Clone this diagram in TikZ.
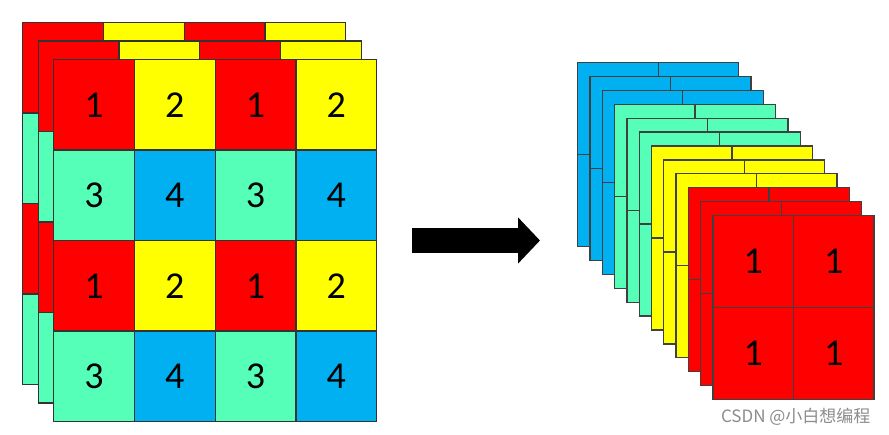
\documentclass[tikz,border=0pt]{standalone}
\usepackage{fontspec}
\setmainfont{Carlito}
\newfontfamily\cjkfont{Noto Sans CJK SC}
\usetikzlibrary{arrows.meta}

\definecolor{cellred}{HTML}{FF0000}
\definecolor{cellyellow}{HTML}{FFFF00}
\definecolor{cellgreen}{HTML}{55FFB8}
\definecolor{cellblue}{HTML}{00B0F0}

\begin{document}
\begin{tikzpicture}[
    x=1pt, y=-1pt,
    % Estilos de celdas
    cell/.style={rectangle, draw=black!80, line width=1.3pt, inner sep=0pt, anchor=north west,
                 font=\fontsize{38}{38}\selectfont},
    in_cell/.style={cell, minimum width=80.75pt, minimum height=90.5pt},
    out_cell/.style={cell, minimum width=80.5pt, minimum height=92pt, draw=black!75},
    % Estilo de la flecha
    big_arrow/.style={-{Triangle[length=22pt, width=45pt]}, line width=25pt, draw=black}
]

\path[use as bounding box, fill=white] (0,0) rectangle (889,435);

% --- Entrada: 3 capas de 4x4 (la capa 0 es la de delante) ---
\foreach \l in {2,1,0} {
  \foreach \r/\ca/\cb/\na/\nb in {0/cellred/cellyellow/1/2, 1/cellgreen/cellblue/3/4,
                                  2/cellred/cellyellow/1/2, 3/cellgreen/cellblue/3/4} {
    \foreach \c in {0,...,3} {
      \ifodd\c \def\col{\cb}\def\num{\nb}\else \def\col{\ca}\def\num{\na}\fi
      \ifnum\l=0 \else \def\num{}\fi
      \node[in_cell, fill=\col] (in_\l_\r_\c)
          at ({53-15.5*\l+80.75*\c}, {59-18.5*\l+90.5*\r}) {\num};
    }
  }
}

% --- Flecha ---
\coordinate (arrow_tail) at (412,240.5);
\coordinate (arrow_head) at (540,240.5);
\draw[big_arrow] (arrow_tail) -- (arrow_head);

% --- Salida: 12 capas de 2x2 ---
\foreach \l/\col in {0/cellblue, 1/cellblue, 2/cellblue, 3/cellgreen, 4/cellgreen, 5/cellgreen,
                     6/cellyellow, 7/cellyellow, 8/cellyellow, 9/cellred, 10/cellred, 11/cellred} {
  \foreach \r in {0,1} {
    \foreach \c in {0,1} {
      \node[out_cell, fill=\col] (out_\l_\r_\c)
          at ({577+12.3*\l+80.5*\c}, {62+13.9*\l+92*\r}) {\ifnum\l=11 1\fi};
    }
  }
}

% --- Marca de agua ---
\node[anchor=east, text=black!45, font=\cjkfont\fontsize{17}{17}\selectfont] (watermark)
    at (874,417) {CSDN @小白想编程};

\end{tikzpicture}
\end{document}
